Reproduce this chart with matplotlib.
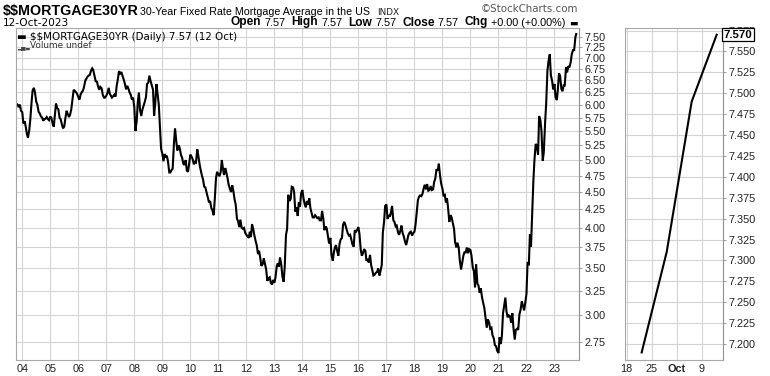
import numpy as np
import pandas as pd
import matplotlib
matplotlib.use('Agg')
from matplotlib import pyplot as plt
from matplotlib.ticker import FixedLocator, FormatStrFormatter, NullLocator
from matplotlib.transforms import blended_transform_factory

plt.rcParams['text.parse_math'] = False

# 30-year fixed mortgage rate (1st and 15th of each month)
rates = [
    6.05, 6.02, 6.00, 5.95, 6.00, 5.88,                                          # 2003 Oct-Dec
    5.85, 5.64, 5.68, 5.58, 5.45, 5.38, 5.52, 5.72, 6.05, 6.29, 6.34, 6.24,      # 2004
    6.06, 6.00, 5.86, 5.83, 5.77, 5.75, 5.69, 5.72, 5.73, 5.76, 5.72, 5.70,
    5.77, 5.74, 5.63, 5.58, 5.80, 6.02, 5.93, 5.91, 5.75, 5.72, 5.62, 5.55,      # 2005
    5.58, 5.73, 5.88, 5.82, 5.76, 5.80, 5.91, 6.08, 6.30, 6.28, 6.25, 6.22,
    6.15, 6.10, 6.21, 6.25, 6.28, 6.35, 6.49, 6.53, 6.58, 6.60, 6.62, 6.71,      # 2006
    6.76, 6.72, 6.59, 6.48, 6.47, 6.37, 6.30, 6.36, 6.33, 6.20, 6.14, 6.14,
    6.18, 6.23, 6.34, 6.22, 6.18, 6.14, 6.17, 6.20, 6.16, 6.37, 6.53, 6.70,      # 2007
    6.63, 6.68, 6.59, 6.52, 6.42, 6.31, 6.38, 6.33, 6.24, 6.20, 6.10, 6.14,
    5.95, 5.50, 5.68, 6.04, 6.24, 5.90, 5.78, 5.90, 5.98, 6.05, 6.15, 6.42,      # 2008
    6.45, 6.60, 6.48, 6.40, 6.30, 5.78, 6.05, 6.42, 6.20, 6.00, 5.55, 5.19,
    5.10, 4.98, 5.10, 5.04, 5.07, 4.98, 4.80, 4.80, 4.84, 4.86, 5.29, 5.55,      # 2009
    5.32, 5.16, 5.25, 5.20, 5.08, 5.04, 4.94, 4.92, 5.00, 4.83, 4.81, 4.94,
    5.09, 5.06, 5.01, 4.93, 4.97, 4.96, 5.18, 5.07, 4.93, 4.84, 4.75, 4.69,      # 2010
    4.58, 4.57, 4.49, 4.42, 4.35, 4.37, 4.27, 4.24, 4.17, 4.39, 4.71, 4.81,
    4.77, 4.74, 4.81, 5.00, 4.87, 4.76, 4.87, 4.80, 4.71, 4.61, 4.55, 4.50,      # 2011
    4.60, 4.52, 4.39, 4.32, 4.12, 4.09, 4.01, 4.11, 4.00, 3.99, 4.00, 3.94,
    3.91, 3.89, 3.87, 3.95, 3.88, 4.05, 3.98, 3.90, 3.83, 3.78, 3.67, 3.71,      # 2012
    3.62, 3.53, 3.55, 3.62, 3.55, 3.49, 3.36, 3.39, 3.40, 3.34, 3.32, 3.37,
    3.34, 3.40, 3.53, 3.56, 3.52, 3.63, 3.54, 3.41, 3.35, 3.51, 3.91, 3.98,      # 2013
    4.46, 4.37, 4.40, 4.58, 4.57, 4.50, 4.22, 4.28, 4.16, 4.35, 4.29, 4.48,
    4.53, 4.41, 4.32, 4.28, 4.37, 4.32, 4.41, 4.27, 4.20, 4.14, 4.14, 4.17,      # 2014
    4.15, 4.13, 4.14, 4.10, 4.10, 4.23, 4.12, 3.97, 4.02, 3.99, 3.89, 3.80,
    3.87, 3.66, 3.59, 3.69, 3.75, 3.78, 3.70, 3.65, 3.80, 3.85, 3.87, 4.04,      # 2015
    4.08, 4.04, 3.98, 3.93, 3.90, 3.91, 3.85, 3.79, 3.76, 3.97, 3.95, 3.97,
    4.01, 3.92, 3.72, 3.65, 3.68, 3.73, 3.71, 3.59, 3.61, 3.57, 3.66, 3.54,      # 2016
    3.48, 3.42, 3.43, 3.45, 3.46, 3.50, 3.42, 3.47, 3.54, 3.94, 4.08, 4.30,
    4.32, 4.12, 4.17, 4.15, 4.21, 4.30, 4.10, 4.08, 4.02, 4.03, 3.94, 3.91,      # 2017
    3.96, 4.03, 3.93, 3.89, 3.82, 3.78, 3.85, 3.91, 3.94, 3.95, 3.90, 3.93,
    3.95, 4.04, 4.22, 4.38, 4.43, 4.45, 4.44, 4.47, 4.55, 4.61, 4.54, 4.62,      # 2018
    4.52, 4.53, 4.59, 4.53, 4.54, 4.65, 4.71, 4.85, 4.83, 4.94, 4.75, 4.63,
    4.55, 4.45, 4.46, 4.35, 4.41, 4.28, 4.08, 4.17, 4.14, 4.07, 3.99, 3.82,      # 2019
    3.75, 3.81, 3.75, 3.60, 3.49, 3.56, 3.65, 3.69, 3.69, 3.75, 3.68, 3.73,
    3.72, 3.65, 3.51, 3.47, 3.29, 3.55, 3.33, 3.31, 3.23, 3.28, 3.18, 3.13,      # 2020
    3.07, 2.98, 2.88, 2.96, 2.93, 2.87, 2.88, 2.81, 2.78, 2.72, 2.71, 2.67,
    2.65, 2.79, 2.73, 2.81, 3.02, 3.09, 3.18, 3.04, 2.98, 3.00, 2.99, 2.93,      # 2021
    3.02, 2.88, 2.77, 2.86, 2.87, 2.86, 3.01, 3.05, 3.14, 3.10, 3.05, 3.12,
    3.22, 3.56, 3.55, 3.92, 3.76, 4.16, 4.67, 5.00, 5.27, 5.25, 5.09, 5.78,      # 2022
    5.70, 5.51, 4.99, 5.13, 5.66, 6.02, 6.70, 6.92, 7.08, 6.61, 6.49, 6.31,
    6.42, 6.15, 6.09, 6.32, 6.65, 6.60, 6.32, 6.27, 6.39, 6.39, 6.79, 6.67,      # 2023
    6.81, 6.78, 6.90, 7.09, 7.18, 7.18, 7.49, 7.57,
]
dates = list(pd.date_range('2003-10-01', '2023-10-01', freq='SMS')) + [pd.Timestamp('2023-10-12')]
assert len(dates) == len(rates), (len(dates), len(rates))

year_ticks = pd.date_range('2004-01-01', '2023-01-01', freq='YS')
year_labels = [d.strftime('%y') for d in year_ticks]
y_ticks = [2.75, 3.00, 3.25, 3.50, 3.75, 4.00, 4.25, 4.50, 4.75, 5.00, 5.25,
           5.50, 5.75, 6.00, 6.25, 6.50, 6.75, 7.00, 7.25, 7.50]

# last few weeks (zoom panel)
zoom_dates = ['2023-09-21', '2023-09-28', '2023-10-05', '2023-10-12']
zoom_rates = [7.19, 7.31, 7.49, 7.57]
zoom_tick_dates = ['2023-09-18', '2023-09-25', '2023-10-02', '2023-10-09']
zoom_tick_labels = ['18', '25', 'Oct', '9']
zoom_y_ticks = [7.200, 7.225, 7.250, 7.275, 7.300, 7.325, 7.350, 7.375, 7.400,
                7.425, 7.450, 7.475, 7.500, 7.525, 7.550, 7.575]

# header quote line
quote_labels = ['Open', 'High', 'Low', 'Close', 'Chg']
quote_values = ['7.57', '7.57', '7.57', '7.57', '+0.00 (+0.00%)']

W, H = 770, 376
grid_c = '#d4d4d4'
spine_c = '#a8a8a8'
tick_font = 'Liberation Sans'

fig = plt.figure(figsize=(W / 100, H / 100), dpi=100)
fig.patch.set_facecolor('white')
renderer = fig.canvas.get_renderer()

def px(x, y):
    return x / W, 1 - y / H

# ---------- main panel ----------
ax = fig.add_axes([16 / W, 1 - 360 / H, (579 - 16) / W, (360 - 28) / H])
ax.plot(dates, rates, color='black', lw=1.5, solid_joinstyle='miter')
ax.set_yscale('log')
ax.set_ylim(2.59, 7.72)
ax.set_xlim(pd.Timestamp('2003-10-11'), pd.Timestamp('2023-11-17'))
ax.yaxis.set_major_locator(FixedLocator(y_ticks))
ax.yaxis.set_minor_locator(NullLocator())
ax.yaxis.set_major_formatter(FormatStrFormatter('%.2f'))
ax.yaxis.tick_right()
ax.set_xticks(year_ticks)
ax.set_xticklabels(year_labels)
ax.xaxis.set_minor_locator(NullLocator())

# ---------- zoom panel ----------
ax2 = fig.add_axes([625 / W, 1 - 360 / H, (723 - 625) / W, (360 - 28) / H])
zpos = np.busday_count('2023-09-18', zoom_dates)
ax2.plot(zpos, zoom_rates, color='black', lw=1.5)
ax2.set_xlim(-0.33, 19.26)
ax2.set_ylim(7.181, 7.578)
ax2.set_xticks(np.busday_count('2023-09-18', zoom_tick_dates))
ax2.set_xticklabels(zoom_tick_labels)
ax2.set_yticks(zoom_y_ticks)
ax2.yaxis.set_major_formatter(FormatStrFormatter('%.3f'))
ax2.yaxis.tick_right()
for lbl in ax2.get_xticklabels():
    if lbl.get_text() == 'Oct':
        lbl.set_fontweight('bold')

for a in (ax, ax2):
    a.grid(True, color=grid_c, lw=0.8)
    a.set_axisbelow(True)
    for s in ('left', 'bottom', 'top'):
        a.spines[s].set_color(spine_c)
        a.spines[s].set_linewidth(0.8)
    a.spines['right'].set_color('#909090')
    a.spines['right'].set_linestyle((0, (1, 1)))
    a.spines['right'].set_linewidth(0.8)
    a.tick_params(axis='y', length=2, width=0.6, color='#909090', pad=2,
                  labelsize=7.8, labelcolor='#222222')
    a.tick_params(axis='x', length=0, pad=3, labelsize=7.8, labelcolor='#222222')
    for lbl in a.get_xticklabels() + a.get_yticklabels():
        lbl.set_fontfamily(tick_font)

# price flag on the zoom panel (covers the top tick label, as in the original)
tr = blended_transform_factory(ax2.transAxes, ax2.transData)
ax2.text(1.005, zoom_rates[-1], '%.3f' % zoom_rates[-1], transform=tr,
         ha='left', va='center', fontsize=8.2, fontweight='bold',
         family=tick_font, zorder=10, clip_on=False,
         bbox=dict(boxstyle='square,pad=0.15', fc='white', ec='black', lw=0.9))

# ---------- header ----------
fig.text(*px(3, 15), '$$MORTGAGE30YR', fontsize=10.3, fontweight='bold',
         family='Liberation Sans', va='baseline')
fig.text(*px(140, 15), '30-Year Fixed Rate Mortgage Average in the US',
         fontsize=7.7, family='Liberation Sans', va='baseline')
fig.text(*px(377, 15), 'INDX', fontsize=6.4, family='DejaVu Sans', va='baseline',
         color='#222222')
fig.text(*px(578, 12), '\u00a9StockCharts.com', fontsize=7.4, family='DejaVu Sans',
         va='baseline', ha='right', color='#555555')
fig.text(*px(3, 25.5), '12-Oct-2023', fontsize=7.6, family='DejaVu Sans', va='baseline')

# quote line: lay pieces out by measured width, then right-align to the plot edge
pieces = []
x = 0
for lab, val in zip(quote_labels, quote_values):
    t = fig.text(0, 0, lab, fontsize=8.6, fontweight='bold',
                 family='Liberation Sans', va='baseline')
    pieces.append((t, x))
    x += t.get_window_extent(renderer).width + 3
    t = fig.text(0, 0, val, fontsize=7.8, family='Liberation Sans', va='baseline')
    pieces.append((t, x))
    x += t.get_window_extent(renderer).width + 6
t = fig.text(0, 0, '\u25ac', fontsize=6.5, family='DejaVu Sans', va='baseline')
pieces.append((t, x - 2))
total = x - 2 + t.get_window_extent(renderer).width
start = 578 - total
for t, off in pieces:
    t.set_position(px(start + off, 25.5))

# legend lines inside the plot
fig.text(*px(17, 39.5), '\u25ac $$MORTGAGE30YR (Daily) 7.57 (12 Oct)',
         fontsize=7.4, family='DejaVu Sans', va='baseline')
fig.text(*px(17, 48.5), '\u2582\u2585\u2583', fontsize=4.0, family='DejaVu Sans',
         va='baseline', color='#444444')
fig.text(*px(30, 48.5), 'Volume undef', fontsize=6.4, family='DejaVu Sans',
         va='baseline', color='#333333')

fig.savefig('out.png', dpi=100, facecolor='white')
